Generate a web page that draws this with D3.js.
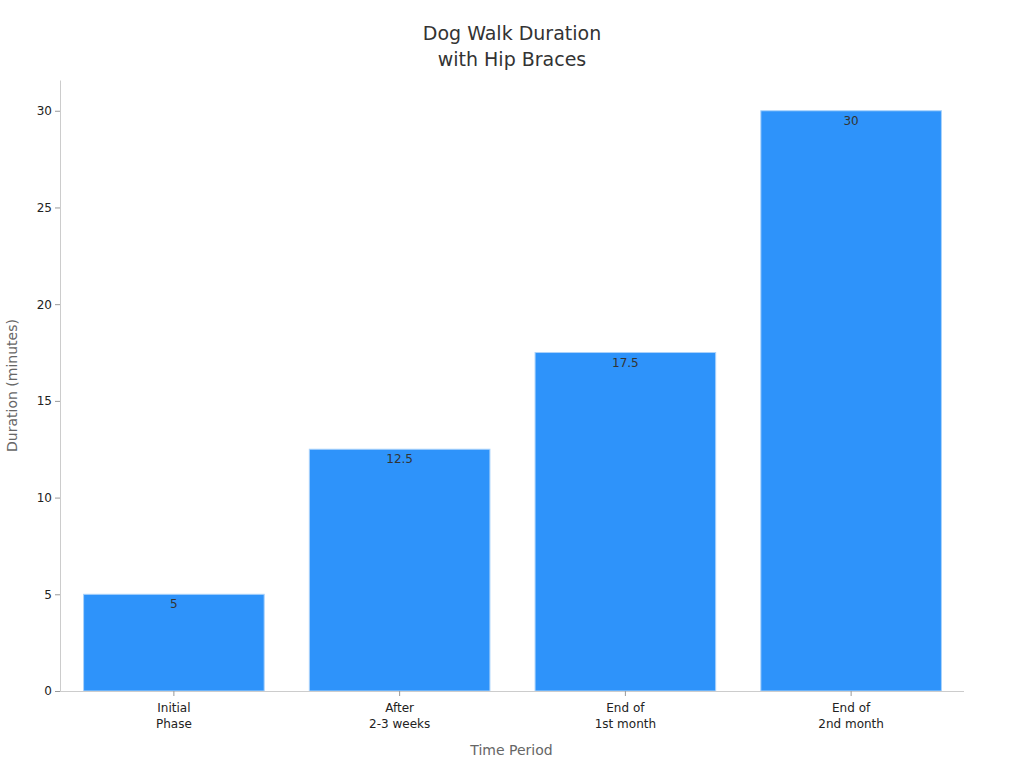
<!DOCTYPE html>
<html>
<head>
<meta charset="utf-8">
<script src="https://cdn.jsdelivr.net/npm/d3@7"></script>
<style>
  body { margin: 0; background: #fff; }
  text { font-family: "DejaVu Sans", sans-serif; }
</style>
</head>
<body>
<div id="chart"></div>
<script>
// chart data
var periods = [["Initial", "Phase"], ["After", "2-3 weeks"], ["End of", "1st month"], ["End of", "2nd month"]];
var durations = [5, 12.5, 17.5, 30];
var yTicks = [0, 5, 10, 15, 20, 25, 30];

var width = 1024, height = 768;
var margin = {top: 80, right: 61, bottom: 77, left: 60};

var svg = d3.select("#chart").append("svg")
    .attr("width", width)
    .attr("height", height);

var keys = periods.map(function(d) { return d.join(" "); });

var x = d3.scaleBand()
    .domain(keys)
    .range([margin.left + 1, width - margin.right + 1])
    .paddingInner(0.2)
    .paddingOuter(0.1);

var y = d3.scaleLinear()
    .domain([0, d3.max(durations) * 1.053])
    .range([height - margin.bottom, margin.top]);

// title
var title = svg.append("text")
    .attr("text-anchor", "middle")
    .attr("x", width / 2)
    .attr("y", 40)
    .style("font-size", "19px")
    .style("fill", "#333");
title.append("tspan").attr("x", width / 2).attr("dy", 0).text("Dog Walk Duration");
title.append("tspan").attr("x", width / 2).attr("dy", "1.36em").text("with Hip Braces");

// bars
svg.selectAll(".bar")
    .data(durations)
    .enter().append("rect")
    .attr("class", "bar")
    .attr("x", function(d, i) { return x(keys[i]); })
    .attr("y", function(d) { return y(d); })
    .attr("width", x.bandwidth())
    .attr("height", function(d) { return y(0) - y(d); })
    .style("fill", "#2e93fa")
    .style("stroke", "#a9d2fb")
    .style("stroke-width", 1);

// value labels
svg.selectAll(".val")
    .data(durations)
    .enter().append("text")
    .attr("class", "val")
    .attr("text-anchor", "middle")
    .attr("x", function(d, i) { return x(keys[i]) + x.bandwidth() / 2; })
    .attr("y", function(d) { return y(d) + 14; })
    .style("font-size", "12px")
    .style("fill", "#333")
    .text(function(d) { return d; });

// y axis
var yAxis = svg.append("g")
    .attr("transform", "translate(" + margin.left + ",0)")
    .call(d3.axisLeft(y).tickValues(yTicks).tickSize(5).tickPadding(3).tickSizeOuter(0));
yAxis.select(".domain").style("stroke", "#ccc");
yAxis.selectAll(".tick line").style("stroke", "#999");
yAxis.selectAll(".tick text").style("font-size", "12px").style("fill", "#222").style("font-family", "DejaVu Sans");

// x axis
var xAxis = svg.append("g")
    .attr("transform", "translate(0," + (height - margin.bottom) + ")")
    .call(d3.axisBottom(x).tickSize(5).tickSizeOuter(0));
xAxis.select(".domain").attr("d", "M" + margin.left + ",0.5H" + (width - margin.right + 1)).style("stroke", "#ccc");
xAxis.selectAll(".tick line").style("stroke", "#999");
xAxis.selectAll(".tick text").remove();
xAxis.selectAll(".tick").each(function(d, i) {
  var t = d3.select(this).append("text")
      .attr("text-anchor", "middle")
      .attr("y", 21)
      .style("font-size", "12px")
      .style("fill", "#222")
      .style("font-family", "DejaVu Sans");
  t.append("tspan").attr("x", 0).attr("dy", 0).text(periods[i][0]);
  t.append("tspan").attr("x", 0).attr("dy", "1.33em").text(periods[i][1]);
});

// axis titles
svg.append("text")
    .attr("text-anchor", "middle")
    .attr("x", (margin.left + width - margin.right) / 2)
    .attr("y", 755)
    .style("font-size", "14px")
    .style("fill", "#666")
    .text("Time Period");

svg.append("text")
    .attr("text-anchor", "middle")
    .attr("transform", "translate(17," + (y(0) + y.range()[1]) / 2 + ") rotate(-90)")
    .style("font-size", "14px")
    .style("fill", "#666")
    .text("Duration (minutes)");
</script>
</body>
</html>
